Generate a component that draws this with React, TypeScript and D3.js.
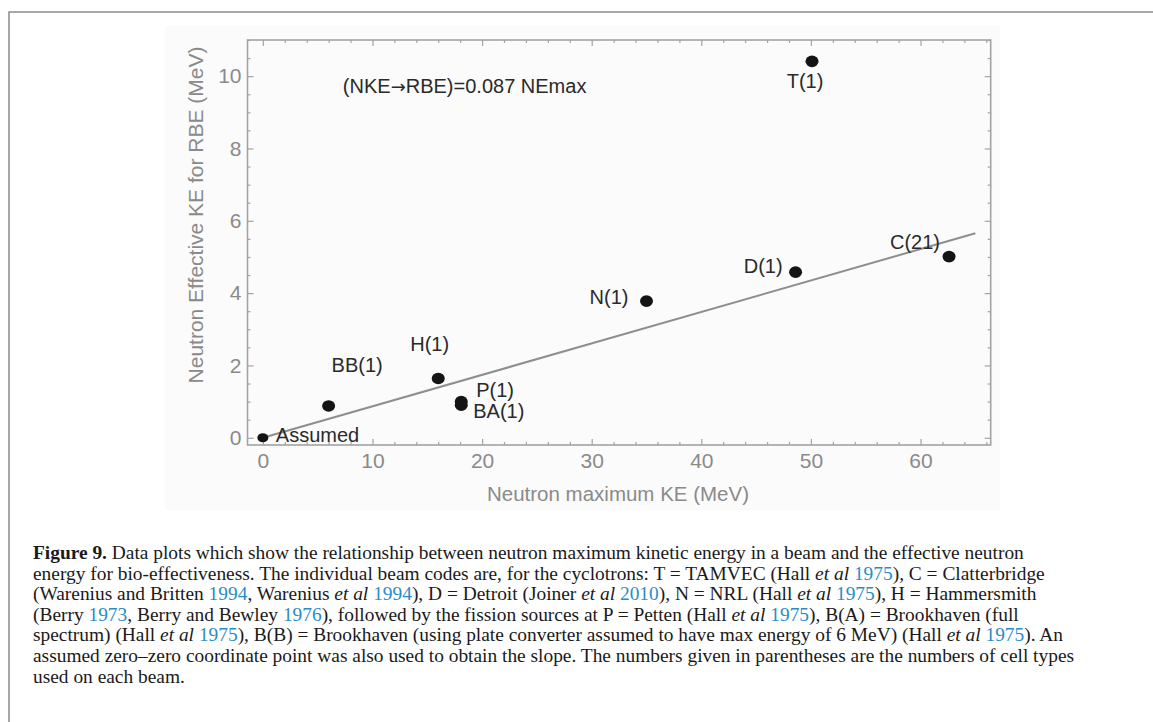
import { useEffect, useRef } from 'react';
import * as d3 from 'd3';

// beam codes and values
const beamCodes = ['Assumed', 'BB(1)', 'H(1)', 'P(1)', 'BA(1)', 'N(1)', 'D(1)', 'C(21)', 'T(1)'];
const maxKE = [0, 6, 16, 18.1, 18.1, 35, 48.6, 62.6, 50.1];
const effectiveKE = [0, 0.88, 1.64, 1.0, 0.9, 3.78, 4.58, 5.01, 10.41];

const slope = 0.087;
const fitRange = [0, 65];

const xMajorTicks = [0, 10, 20, 30, 40, 50, 60];
const yMajorTicks = [0, 2, 4, 6, 8, 10];

// where each label sits relative to its dot
const labelPlacement: Record<string, { dx: number; dy: number; anchor: string }> = {
  'Assumed': { dx: 13, dy: 4, anchor: 'start' },
  'BB(1)': { dx: 3, dy: -34, anchor: 'start' },
  'H(1)': { dx: -28, dy: -27, anchor: 'start' },
  'P(1)': { dx: 15, dy: -5, anchor: 'start' },
  'BA(1)': { dx: 12, dy: 13, anchor: 'start' },
  'N(1)': { dx: -18, dy: 3, anchor: 'end' },
  'D(1)': { dx: -13, dy: 1, anchor: 'end' },
  'C(21)': { dx: -9, dy: -8, anchor: 'end' },
  'T(1)': { dx: -7, dy: 27, anchor: 'middle' },
};

type Seg = { t: string; s?: 'b' | 'i' | 'l' };
const caption: Seg[][] = [
  [{ t: 'Figure 9.', s: 'b' }, { t: ' Data plots which show the relationship between neutron maximum kinetic energy in a beam and the effective neutron' }],
  [{ t: 'energy for bio-effectiveness. The individual beam codes are, for the cyclotrons: T = TAMVEC (Hall ' }, { t: 'et al', s: 'i' }, { t: ' ' }, { t: '1975', s: 'l' }, { t: '), C = Clatterbridge' }],
  [{ t: '(Warenius and Britten ' }, { t: '1994', s: 'l' }, { t: ', Warenius ' }, { t: 'et al', s: 'i' }, { t: ' ' }, { t: '1994', s: 'l' }, { t: '), D = Detroit (Joiner ' }, { t: 'et al', s: 'i' }, { t: ' ' }, { t: '2010', s: 'l' }, { t: '), N = NRL (Hall ' }, { t: 'et al', s: 'i' }, { t: ' ' }, { t: '1975', s: 'l' }, { t: '), H = Hammersmith' }],
  [{ t: '(Berry ' }, { t: '1973', s: 'l' }, { t: ', Berry and Bewley ' }, { t: '1976', s: 'l' }, { t: '), followed by the fission sources at P = Petten (Hall ' }, { t: 'et al', s: 'i' }, { t: ' ' }, { t: '1975', s: 'l' }, { t: '), B(A) = Brookhaven (full' }],
  [{ t: 'spectrum) (Hall ' }, { t: 'et al', s: 'i' }, { t: ' ' }, { t: '1975', s: 'l' }, { t: '), B(B) = Brookhaven (using plate converter assumed to have max energy of 6 MeV) (Hall ' }, { t: 'et al', s: 'i' }, { t: ' ' }, { t: '1975', s: 'l' }, { t: '). An' }],
  [{ t: 'assumed zero\u2013zero coordinate point was also used to obtain the slope. The numbers given in parentheses are the numbers of cell types' }],
  [{ t: 'used on each beam.' }],
];

export default function App() {
  const svgRef = useRef<SVGSVGElement>(null);

  useEffect(() => {
    if (!svgRef.current) return;
    const svg = d3.select(svgRef.current);
    svg.selectAll('*').remove();

    const left = 247.5, right = 990.7, top = 40, bottom = 445;
    const axisColor = '#a3a3a3';
    const labelColor = '#8a8a8a';
    const sans = 'Liberation Sans, Arial, sans-serif';

    // figure box
    svg.append('path')
      .attr('d', 'M9,722 L9,12 L1153,12')
      .attr('fill', 'none')
      .attr('stroke', '#8a8a8a')
      .attr('stroke-width', 1.5);

    // faint background of the pasted plot image
    svg.append('rect')
      .attr('x', 165).attr('y', 26).attr('width', 835).attr('height', 484)
      .attr('fill', '#fbfbfb');

    const x = d3.scaleLinear().domain([-1.4, 66.4]).range([left, right]);
    const y = d3.scaleLinear().domain([-0.2, 11]).range([bottom, top]);

    const xMinor = d3.range(0, 67, 2).filter(v => !xMajorTicks.includes(v));
    const yMinor = d3.range(0, 11.01, 0.5).filter(v => !yMajorTicks.includes(v));

    const tickStyle = (g: d3.Selection<SVGGElement, unknown, null, undefined>) => {
      g.select('.domain').remove();
      g.selectAll('line').attr('stroke', axisColor).attr('stroke-width', 1.2);
      g.selectAll('text')
        .attr('fill', labelColor)
        .style('font-family', sans)
        .style('font-size', '21px');
    };

    // bottom + top
    svg.append('g').attr('transform', `translate(0,${bottom})`)
      .call(d3.axisBottom(x).tickValues(xMajorTicks).tickSize(-6).tickPadding(8).tickFormat(d3.format('d')))
      .call(tickStyle);
    svg.append('g').attr('transform', `translate(0,${bottom})`)
      .call(d3.axisBottom(x).tickValues(xMinor).tickSize(-3).tickFormat(() => ''))
      .call(tickStyle);
    svg.append('g').attr('transform', `translate(0,${top})`)
      .call(d3.axisTop(x).tickValues(xMajorTicks).tickSize(-6).tickFormat(() => ''))
      .call(tickStyle);
    svg.append('g').attr('transform', `translate(0,${top})`)
      .call(d3.axisTop(x).tickValues(xMinor).tickSize(-3).tickFormat(() => ''))
      .call(tickStyle);

    // left + right
    svg.append('g').attr('transform', `translate(${left},0)`)
      .call(d3.axisLeft(y).tickValues(yMajorTicks).tickSize(-6).tickPadding(6).tickFormat(d3.format('d')))
      .call(tickStyle);
    svg.append('g').attr('transform', `translate(${left},0)`)
      .call(d3.axisLeft(y).tickValues(yMinor).tickSize(-3).tickFormat(() => ''))
      .call(tickStyle);
    svg.append('g').attr('transform', `translate(${right},0)`)
      .call(d3.axisRight(y).tickValues(yMajorTicks).tickSize(-6).tickFormat(() => ''))
      .call(tickStyle);
    svg.append('g').attr('transform', `translate(${right},0)`)
      .call(d3.axisRight(y).tickValues(yMinor).tickSize(-3).tickFormat(() => ''))
      .call(tickStyle);

    // frame
    svg.append('rect')
      .attr('x', left).attr('y', top)
      .attr('width', right - left).attr('height', bottom - top)
      .attr('fill', 'none')
      .attr('stroke', axisColor)
      .attr('stroke-width', 1.6);

    // axis titles
    svg.append('text')
      .attr('x', 618).attr('y', 501)
      .attr('text-anchor', 'middle')
      .attr('fill', labelColor)
      .style('font-family', sans).style('font-size', '20.5px')
      .text('Neutron maximum KE (MeV)');

    svg.append('text')
      .attr('transform', 'translate(203,215) rotate(-90)')
      .attr('text-anchor', 'middle')
      .attr('fill', labelColor)
      .style('font-family', sans).style('font-size', '21px')
      .text('Neutron Effective KE for RBE (MeV)');

    // fit line
    svg.append('line')
      .attr('x1', x(fitRange[0])).attr('y1', y(slope * fitRange[0]))
      .attr('x2', x(fitRange[1])).attr('y2', y(slope * fitRange[1]))
      .attr('stroke', '#8e8e8e')
      .attr('stroke-width', 2);

    // equation
    const eq = svg.append('text')
      .attr('x', x(7.3)).attr('y', y(9.54))
      .attr('fill', '#2a2a2a')
      .style('font-family', sans).style('font-size', '20px');
    eq.append('tspan').text('(NKE');
    eq.append('tspan').style('font-family', 'DejaVu Sans').style('font-size', '18px').text('\u2192');
    eq.append('tspan').text('RBE)=0.087 NEmax');

    const points = beamCodes.map((code, i) => ({ code, ke: maxKE[i], eff: effectiveKE[i] }));

    svg.append('g')
      .selectAll('ellipse')
      .data(points)
      .join('ellipse')
      .attr('cx', d => x(d.ke))
      .attr('cy', d => y(d.eff))
      .attr('rx', d => d.code === 'Assumed' ? 5.5 : 6.5)
      .attr('ry', d => d.code === 'Assumed' ? 4.5 : 5.8)
      .attr('fill', '#141414');

    svg.append('g')
      .selectAll('text')
      .data(points)
      .join('text')
      .attr('x', d => x(d.ke) + labelPlacement[d.code].dx)
      .attr('y', d => y(d.eff) + labelPlacement[d.code].dy)
      .attr('text-anchor', d => labelPlacement[d.code].anchor)
      .attr('fill', '#2a2a2a')
      .style('font-family', sans)
      .style('font-size', '20px')
      .text(d => d.code);

    // caption
    const cap = svg.append('g')
      .style('font-family', 'Liberation Serif, Times New Roman, serif')
      .style('font-size', '19.4px')
      .attr('fill', '#1a1a1a');

    caption.forEach((line, li) => {
      const t = cap.append('text')
        .attr('x', 33)
        .attr('y', 559 + li * 20.6)
        .attr('xml:space', 'preserve');
      line.forEach(seg => {
        const sp = t.append('tspan').text(seg.t);
        if (seg.s === 'b') sp.style('font-weight', 'bold');
        if (seg.s === 'i') sp.style('font-style', 'italic');
        if (seg.s === 'l') sp.attr('fill', '#2b8cc4');
      });
    });
  }, []);

  return (
    <svg
      ref={svgRef}
      width={1153}
      height={722}
      style={{ position: 'absolute', left: 0, top: 0, background: '#fff' }}
    />
  );
}
